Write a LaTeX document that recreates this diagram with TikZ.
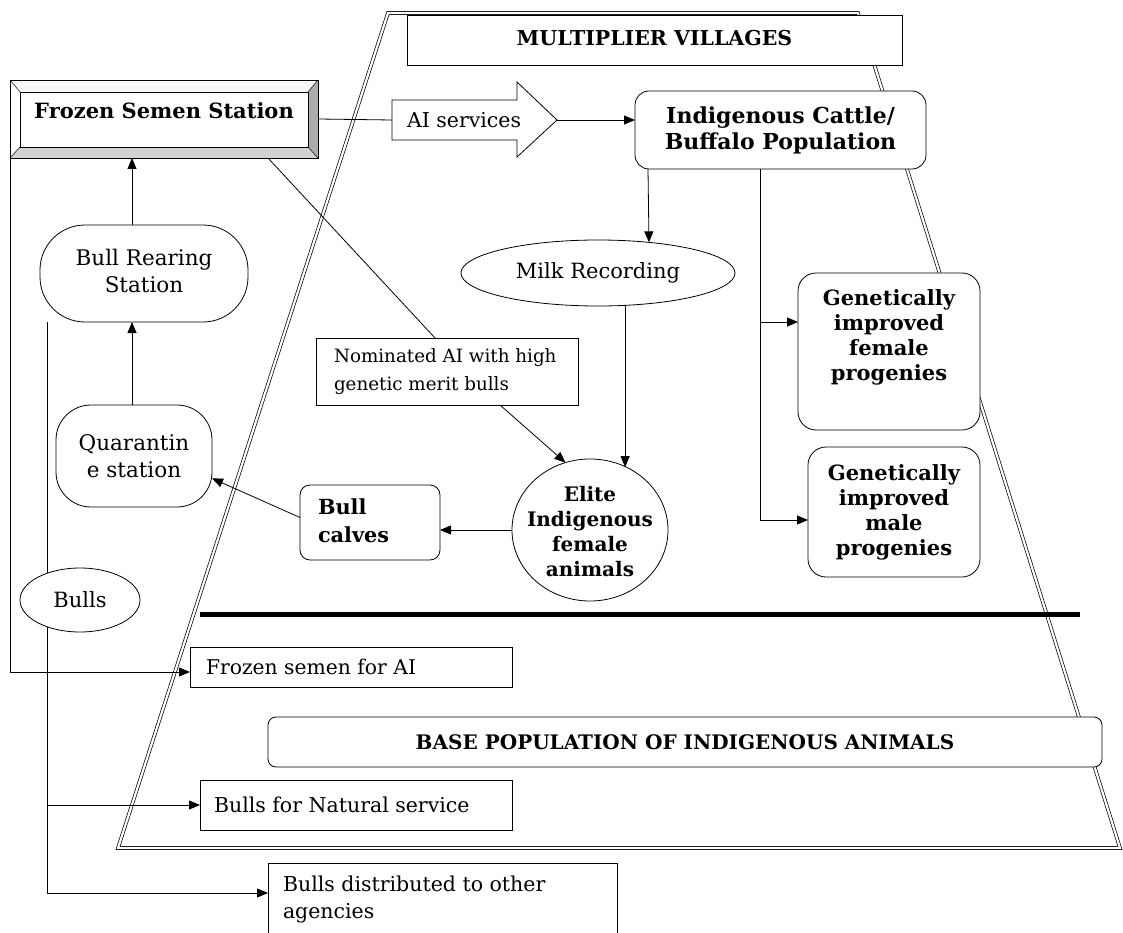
\documentclass[tikz,border=0pt]{standalone}
\usepackage{fontspec}
\setmainfont{DejaVu Serif}
\usetikzlibrary{arrows.meta,calc,backgrounds,shapes.geometric}
\begin{document}
\begin{tikzpicture}[x=1pt,y=-1pt,
  every node/.style={inner sep=0pt,outer sep=0pt},
  con/.style={draw,line width=0.8pt},
  arr/.style={con,-{Triangle[length=11pt,width=9pt]}},
  sbox/.style={draw,line width=0.8pt,fill=white},
  rbox/.style={sbox,rounded corners=#1},
  ell/.style={draw,line width=0.8pt,fill=white,ellipse},
  fnt/.style={font=\fontsize{#1}{24}\selectfont},
]
\useasboundingbox (0,0) rectangle (1123,933);
% ---- nodes ----
\node[sbox,minimum width=495pt,minimum height=50pt] (mv) at (654.5,40) {};
\node[font=\fontsize{20.5}{24}\selectfont\bfseries] (mvt) at (654.5,38) {MULTIPLIER VILLAGES};

% frozen semen station (bevelled)
\node[minimum width=308pt,minimum height=78pt] (fss) at (164,119) {};
\fill[gray!6] (fss.north west) -- (fss.north east) -- ++(-10,12) -- ($(fss.north west)+(10,12)$) -- cycle;
\fill[white] (fss.north west) -- (fss.south west) -- ++(10,-11) -- ($(fss.north west)+(10,12)$) -- cycle;
\fill[gray!65] (fss.north east) -- (fss.south east) -- ++(-10,-11) -- ($(fss.north east)+(-10,12)$) -- cycle;
\fill[gray!35] (fss.south west) -- (fss.south east) -- ++(-10,-11) -- ($(fss.south west)+(10,-11)$) -- cycle;
\draw[line width=0.8pt] (fss.north west) rectangle (fss.south east);
\draw[line width=0.8pt] ($(fss.north west)+(10,12)$) rectangle ($(fss.south east)+(-10,-11)$);
\draw[line width=0.5pt] (fss.north west) -- ++(10,12) (fss.north east) -- ++(-10,12)
  (fss.south west) -- ++(10,-11) (fss.south east) -- ++(-10,-11);
\node[font=\fontsize{21}{24}\selectfont\bfseries] (fsst) at (164,111) {Frozen Semen Station};

% AI services arrow
\node[minimum width=165pt,minimum height=75pt] (ai) at (474.5,120) {};
\draw[line width=0.8pt,fill=white] (392,100) -- (517,100) -- (517,82) -- (557,120) -- (517,157) -- (517,140) -- (392,140) -- cycle;
\coordinate (aiL) at (392,120);
\coordinate (aiR) at (557,120);
\node[fnt=20.5,anchor=west] (ait) at (407,120) {AI services};

\node[rbox=14pt,minimum width=291pt,minimum height=78pt,font=\fontsize{22}{26}\selectfont\bfseries,align=center] (ind) at (780.5,130) {Indigenous Cattle/\\Buffalo Population};

\node[ell,minimum width=274pt,minimum height=66pt,fnt=21] (milk) at (598,273) {Milk Recording};

\node[rbox=18pt,minimum width=182pt,minimum height=157pt] (gf) at (889,351.5) {};
\node[font=\fontsize{21}{25}\selectfont\bfseries,align=center] (gft) at (889,337) {Genetically\\improved\\female\\progenies};
\node[rbox=18pt,minimum width=172pt,minimum height=130pt,font=\fontsize{21}{25}\selectfont\bfseries,align=center] (gm) at (894,512) {Genetically\\improved\\male\\progenies};

\node[sbox,minimum width=262pt,minimum height=67pt] (nom) at (447,371.5) {};
\node[font=\fontsize{18.3}{28}\selectfont,align=left,anchor=west] (nomt) at (334,372) {Nominated AI with high\\genetic merit bulls};

\node[rbox=45pt,minimum width=208pt,minimum height=97pt] (brs) at (144,273.5) {};
\node[font=\fontsize{21.5}{27}\selectfont,align=center] (brst) at (144,270.5) {Bull Rearing\\Station};
\node[rbox=35pt,minimum width=156pt,minimum height=102pt,font=\fontsize{21.5}{27}\selectfont,align=center] (q) at (134,456) {Quarantin\\e station};

\node[rbox=10pt,minimum width=140pt,minimum height=75pt] (bc) at (370,522.5) {};
\node[font=\fontsize{20.8}{28}\selectfont\bfseries,align=left,anchor=west] (bct) at (318,521) {Bull\\calves};

\node[ell,minimum width=156pt,minimum height=142pt] (elite) at (590,530) {};
\node[font=\fontsize{20}{25}\selectfont\bfseries,align=center] (elitet) at (590,532) {Elite\\Indigenous\\female\\animals};

\node[ell,minimum width=120pt,minimum height=64pt,fnt=21] (bulls) at (80,600) {Bulls};

\node[sbox,minimum width=322pt,minimum height=40pt] (fsai) at (351,667) {};
\node[fnt=20.3,anchor=west] (fsait) at (206,667) {Frozen semen for AI};

\node[rbox=8pt,minimum width=834pt,minimum height=50pt,font=\fontsize{20}{22}\selectfont\bfseries] (base) at (685,742) {BASE POPULATION OF INDIGENOUS ANIMALS};

\node[sbox,minimum width=312pt,minimum height=50pt] (bns) at (356,805) {};
\node[fnt=20.5,anchor=west] (bnst) at (214,805) {Bulls for Natural service};

\node[sbox,minimum width=349pt,minimum height=74pt] (bd) at (442.5,900) {};
\node[font=\fontsize{20.5}{27}\selectfont,align=left,anchor=west] (bdt) at (283,899) {Bulls distributed to other\\agencies};

% ---- background: frame and connectors ----
\begin{scope}[on background layer]
\draw[line width=0.7pt,double,double distance=2.2pt] (388,13) -- (858,13) -- (1120,848) -- (118,848) -- cycle;
\draw[line width=5pt] (200,614) -- (1080,614);
\coordinate (tl) at (132,0);
\coordinate (t2) at (47,0);
\coordinate (t3) at (760,0);
\draw[con] (fss.east) -- (aiL);
\draw[arr] (aiR) -- (aiR -| ind.west);
\draw[arr] (fss.south west) |- ($(fsai.west)+(0,5)$);
\draw[arr] (tl |- brs.north) -- (tl |- fss.south);
\draw[arr] (tl |- q.north) -- (tl |- brs.south);
\draw[con] ($(fss.south west)+(258,0)$) -- ($(nom.north west)+(119,0)$);
\draw[arr] ($(nom.south west)+(184,0)$) -- (elite.110);
\draw[arr] (elite.west) -- (elite.west -| bc.east);
\draw[arr] ($(bc.west)+(0,-5)$) -- (q.-16);
\draw[arr] ($(ind.south west)+(13,0)$) -- (milk.31);
\draw[arr] (milk.-50) -- (milk.-50 |- elite.60);
\draw[con] (t3 |- ind.south) -- (t3 |- gm.west) -- ++(0,8);
\draw[arr] (t3 |- gf.north) ++(0,49) -- ++(38,0);
\draw[arr] ($(gm.west -| t3)+(0,8)$) -- ($(gm.west)+(0,8)$);
\draw[con] (t2 |- brs.south) -- ($(t2 |- bd.west)+(0,-7)$);
\draw[arr] (t2 |- bns.west) -- (bns.west);
\draw[arr] ($(t2 |- bd.west)+(0,-7)$) -- ($(bd.west)+(0,-7)$);
\end{scope}
\end{tikzpicture}
\end{document}
